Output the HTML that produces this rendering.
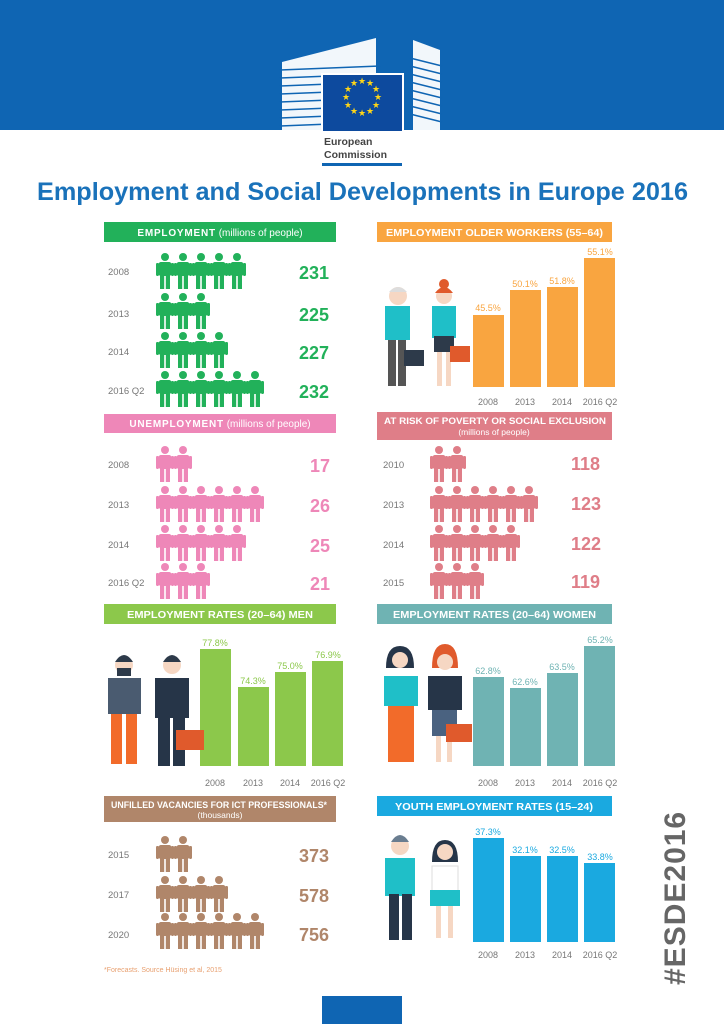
<!DOCTYPE html>
<html><head><meta charset="utf-8"><style>
html,body{margin:0;padding:0;background:#fff;}
svg{display:block;font-family:"Liberation Sans",sans-serif;}
</style></head><body>
<svg width="724" height="1024" viewBox="0 0 724 1024" xmlns="http://www.w3.org/2000/svg">
<defs>
<symbol id="p" viewBox="0 0 18 36" overflow="visible">
<circle cx="9" cy="4" r="4"/>
<rect x="2.5" y="9" width="13" height="14" rx="2.5"/>
<rect x="0" y="10" width="3" height="13" rx="1.2"/>
<rect x="15" y="10" width="3" height="13" rx="1.2"/>
<rect x="4" y="21" width="4.2" height="15"/>
<rect x="9.8" y="21" width="4.2" height="15"/>
</symbol>
</defs>
<!-- header -->
<rect x="0" y="0" width="724" height="130" fill="#0f65b3"/>
<g fill="#fff">
<path d="M282 62 L376 38 L376 130 L282 130 Z" opacity="0.95"/>
<path d="M413 40 L440 50 L440 130 L413 130 Z" opacity="0.95"/>
</g>
<g stroke="#0f65b3" stroke-width="1.6">
<line x1="280" y1="70" x2="380" y2="66"/><line x1="280" y1="78" x2="380" y2="74"/><line x1="280" y1="86" x2="380" y2="82"/><line x1="280" y1="94" x2="380" y2="90"/><line x1="280" y1="102" x2="380" y2="98"/><line x1="280" y1="110" x2="380" y2="106"/><line x1="280" y1="118" x2="380" y2="114"/><line x1="280" y1="126" x2="380" y2="122"/>
<line x1="410" y1="58" x2="442" y2="66"/><line x1="410" y1="66" x2="442" y2="74"/><line x1="410" y1="74" x2="442" y2="82"/><line x1="410" y1="82" x2="442" y2="90"/><line x1="410" y1="90" x2="442" y2="98"/><line x1="410" y1="98" x2="442" y2="106"/><line x1="410" y1="106" x2="442" y2="114"/><line x1="410" y1="114" x2="442" y2="122"/>
</g>
<rect x="321" y="73" width="83" height="58" fill="#fff"/>
<rect x="323" y="75" width="79" height="56" fill="#0d4a9e"/>
<g fill="#ffd617" font-size="9" text-anchor="middle">
<text x="362" y="84">★</text><text x="370" y="86">★</text><text x="376" y="92">★</text><text x="378" y="100">★</text><text x="376" y="108">★</text><text x="370" y="114">★</text><text x="362" y="116">★</text><text x="354" y="114">★</text><text x="348" y="108">★</text><text x="346" y="100">★</text><text x="348" y="92">★</text><text x="354" y="86">★</text>
</g>
<text x="324" y="145" font-size="10.5" fill="#444" font-weight="bold">European</text>
<text x="324" y="158" font-size="10.5" fill="#444" font-weight="bold">Commission</text>
<rect x="322" y="163" width="80" height="3" fill="#0f65b3"/>
<text x="37" y="200" font-size="25" fill="#1a72ba" font-weight="bold" textLength="651" lengthAdjust="spacingAndGlyphs">Employment and Social Developments in Europe 2016</text>

<!-- EMPLOYMENT -->
<rect x="104" y="222" width="232" height="20" fill="#22b15a"/>
<text x="220" y="236" font-size="10" fill="#fff" text-anchor="middle"><tspan font-weight="bold" letter-spacing="0.8">EMPLOYMENT</tspan> (millions of people)</text>
<g font-size="9.5" fill="#777">
<text x="108" y="275">2008</text><text x="108" y="317">2013</text><text x="108" y="355">2014</text><text x="108" y="394">2016 Q2</text>
</g>
<g fill="#22b15a">
<use href="#p" x="156" y="253" width="18" height="36"/><use href="#p" x="174" y="253" width="18" height="36"/><use href="#p" x="192" y="253" width="18" height="36"/><use href="#p" x="210" y="253" width="18" height="36"/><use href="#p" x="228" y="253" width="18" height="36"/>
<use href="#p" x="156" y="293" width="18" height="36"/><use href="#p" x="174" y="293" width="18" height="36"/><use href="#p" x="192" y="293" width="18" height="36"/>
<use href="#p" x="156" y="332" width="18" height="36"/><use href="#p" x="174" y="332" width="18" height="36"/><use href="#p" x="192" y="332" width="18" height="36"/><use href="#p" x="210" y="332" width="18" height="36"/>
<use href="#p" x="156" y="371" width="18" height="36"/><use href="#p" x="174" y="371" width="18" height="36"/><use href="#p" x="192" y="371" width="18" height="36"/><use href="#p" x="210" y="371" width="18" height="36"/><use href="#p" x="228" y="371" width="18" height="36"/><use href="#p" x="246" y="371" width="18" height="36"/>
</g>
<g font-size="18" font-weight="bold" fill="#22b15a">
<text x="299" y="279">231</text><text x="299" y="321">225</text><text x="299" y="359">227</text><text x="299" y="398">232</text>
</g>

<!-- OLDER WORKERS -->
<rect x="377" y="222" width="235" height="20" fill="#f9a540"/>
<text x="386" y="236" font-size="10" fill="#fff" font-weight="bold" textLength="217" lengthAdjust="spacingAndGlyphs">EMPLOYMENT OLDER WORKERS (55–64)</text>
<g fill="#f9a540">
<rect x="473" y="315" width="31" height="72"/><rect x="510" y="290" width="31" height="97"/><rect x="547" y="287" width="31" height="100"/><rect x="584" y="258" width="31" height="129"/>
</g>
<g font-size="9" fill="#f9a540" text-anchor="middle">
<text x="488" y="311">45.5%</text><text x="525" y="287">50.1%</text><text x="562" y="284">51.8%</text><text x="600" y="255">55.1%</text>
</g>
<g font-size="9" fill="#777" text-anchor="middle">
<text x="488" y="405">2008</text><text x="525" y="405">2013</text><text x="562" y="405">2014</text><text x="600" y="405">2016 Q2</text>
</g>
<circle cx="398" cy="296" r="9" fill="#f6d7c3"/><path d="M389 292 q9 -10 18 0" fill="#ddd"/>
<rect x="385" y="306" width="25" height="34" fill="#1fbfc8"/><rect x="388" y="340" width="8" height="46" fill="#555"/><rect x="398" y="340" width="8" height="46" fill="#555"/>
<rect x="404" y="350" width="20" height="16" fill="#2d3a4a"/>
<circle cx="444" cy="296" r="8" fill="#f6d7c3"/><circle cx="444" cy="284" r="5" fill="#e05a2c"/><path d="M435 293 q9 -12 18 0" fill="#e05a2c"/>
<rect x="432" y="306" width="24" height="32" fill="#1fbfc8"/><rect x="434" y="336" width="20" height="16" fill="#2d3a4a"/><rect x="437" y="352" width="5" height="34" fill="#f6d7c3"/><rect x="446" y="352" width="5" height="34" fill="#f6d7c3"/>
<rect x="450" y="346" width="20" height="16" fill="#e05a2c"/>

<!-- UNEMPLOYMENT -->
<rect x="104" y="414" width="232" height="19" fill="#ee87b8"/>
<text x="220" y="427" font-size="10" fill="#fff" text-anchor="middle"><tspan font-weight="bold" letter-spacing="0.8">UNEMPLOYMENT</tspan> (millions of people)</text>
<g font-size="9.5" fill="#777">
<text x="108" y="468">2008</text><text x="108" y="508">2013</text><text x="108" y="548">2014</text><text x="108" y="586">2016 Q2</text>
</g>
<g fill="#ee87b8">
<use href="#p" x="156" y="446" width="18" height="36"/><use href="#p" x="174" y="446" width="18" height="36"/>
<use href="#p" x="156" y="486" width="18" height="36"/><use href="#p" x="174" y="486" width="18" height="36"/><use href="#p" x="192" y="486" width="18" height="36"/><use href="#p" x="210" y="486" width="18" height="36"/><use href="#p" x="228" y="486" width="18" height="36"/><use href="#p" x="246" y="486" width="18" height="36"/>
<use href="#p" x="156" y="525" width="18" height="36"/><use href="#p" x="174" y="525" width="18" height="36"/><use href="#p" x="192" y="525" width="18" height="36"/><use href="#p" x="210" y="525" width="18" height="36"/><use href="#p" x="228" y="525" width="18" height="36"/>
<use href="#p" x="156" y="563" width="18" height="36"/><use href="#p" x="174" y="563" width="18" height="36"/><use href="#p" x="192" y="563" width="18" height="36"/>
</g>
<g font-size="18" font-weight="bold" fill="#ee87b8">
<text x="310" y="472">17</text><text x="310" y="512">26</text><text x="310" y="552">25</text><text x="310" y="590">21</text>
</g>

<!-- POVERTY -->
<rect x="377" y="412" width="235" height="28" fill="#df7e88"/>
<text x="384" y="424" font-size="9.5" fill="#fff" font-weight="bold" textLength="222" lengthAdjust="spacingAndGlyphs">AT RISK OF POVERTY OR SOCIAL EXCLUSION</text>
<text x="494" y="435" font-size="8.5" fill="#fff" text-anchor="middle">(millions of people)</text>
<g font-size="9.5" fill="#777">
<text x="383" y="468">2010</text><text x="383" y="508">2013</text><text x="383" y="548">2014</text><text x="383" y="586">2015</text>
</g>
<g fill="#df7e88">
<use href="#p" x="430" y="446" width="18" height="36"/><use href="#p" x="448" y="446" width="18" height="36"/>
<use href="#p" x="430" y="486" width="18" height="36"/><use href="#p" x="448" y="486" width="18" height="36"/><use href="#p" x="466" y="486" width="18" height="36"/><use href="#p" x="484" y="486" width="18" height="36"/><use href="#p" x="502" y="486" width="18" height="36"/><use href="#p" x="520" y="486" width="18" height="36"/>
<use href="#p" x="430" y="525" width="18" height="36"/><use href="#p" x="448" y="525" width="18" height="36"/><use href="#p" x="466" y="525" width="18" height="36"/><use href="#p" x="484" y="525" width="18" height="36"/><use href="#p" x="502" y="525" width="18" height="36"/>
<use href="#p" x="430" y="563" width="18" height="36"/><use href="#p" x="448" y="563" width="18" height="36"/><use href="#p" x="466" y="563" width="18" height="36"/>
</g>
<g font-size="18" font-weight="bold" fill="#df7e88">
<text x="571" y="470">118</text><text x="571" y="510">123</text><text x="571" y="550">122</text><text x="571" y="588">119</text>
</g>

<!-- MEN -->
<rect x="104" y="604" width="232" height="20" fill="#8cc84b"/>
<text x="127" y="618" font-size="10" fill="#fff" font-weight="bold" textLength="186" lengthAdjust="spacingAndGlyphs">EMPLOYMENT RATES (20–64) MEN</text>
<g fill="#8cc84b">
<rect x="200" y="649" width="31" height="117"/><rect x="238" y="687" width="31" height="79"/><rect x="275" y="672" width="31" height="94"/><rect x="312" y="661" width="31" height="105"/>
</g>
<g font-size="9" fill="#8cc84b" text-anchor="middle">
<text x="215" y="646">77.8%</text><text x="253" y="684">74.3%</text><text x="290" y="669">75.0%</text><text x="328" y="658">76.9%</text>
</g>
<g font-size="9" fill="#777" text-anchor="middle">
<text x="215" y="786">2008</text><text x="253" y="786">2013</text><text x="290" y="786">2014</text><text x="328" y="786">2016 Q2</text>
</g>
<circle cx="124" cy="665" r="9" fill="#f6d7c3"/><path d="M115 662 q9 -14 18 0" fill="#2d3a4a"/><rect x="117" y="668" width="14" height="8" fill="#2d3a4a"/>
<rect x="108" y="678" width="33" height="36" fill="#4a5b70"/><rect x="111" y="714" width="11" height="50" fill="#f26b2a"/><rect x="126" y="714" width="11" height="50" fill="#f26b2a"/>
<circle cx="172" cy="665" r="9" fill="#f6d7c3"/><path d="M163 662 q9 -14 18 0" fill="#2d3a4a"/>
<rect x="155" y="678" width="34" height="40" fill="#263548"/><rect x="158" y="716" width="12" height="50" fill="#263548"/><rect x="173" y="716" width="12" height="50" fill="#263548"/>
<rect x="176" y="730" width="28" height="20" fill="#e05a2c"/>

<!-- WOMEN -->
<rect x="377" y="604" width="235" height="20" fill="#6fb3b3"/>
<text x="393" y="618" font-size="10" fill="#fff" font-weight="bold" textLength="203" lengthAdjust="spacingAndGlyphs">EMPLOYMENT RATES (20–64) WOMEN</text>
<g fill="#6fb3b3">
<rect x="473" y="677" width="31" height="89"/><rect x="510" y="688" width="31" height="78"/><rect x="547" y="673" width="31" height="93"/><rect x="584" y="646" width="31" height="120"/>
</g>
<g font-size="9" fill="#6fb3b3" text-anchor="middle">
<text x="488" y="674">62.8%</text><text x="525" y="685">62.6%</text><text x="562" y="670">63.5%</text><text x="600" y="643">65.2%</text>
</g>
<g font-size="9" fill="#777" text-anchor="middle">
<text x="488" y="786">2008</text><text x="525" y="786">2013</text><text x="562" y="786">2014</text><text x="600" y="786">2016 Q2</text>
</g>
<path d="M386 668 q0 -22 14 -22 q14 0 14 22 z" fill="#263548"/><circle cx="400" cy="660" r="8" fill="#f6d7c3"/>
<rect x="384" y="676" width="34" height="30" fill="#1fbfc8"/><path d="M388 706 h26 v56 h-26 z" fill="#f26b2a"/>
<path d="M432 668 q0 -24 13 -24 q13 0 13 24 z" fill="#e05a2c"/><circle cx="445" cy="662" r="8" fill="#f6d7c3"/>
<rect x="428" y="676" width="34" height="34" fill="#263548"/><rect x="432" y="710" width="25" height="26" fill="#4a6280"/><rect x="436" y="736" width="5" height="26" fill="#f6d7c3"/><rect x="447" y="736" width="5" height="26" fill="#f6d7c3"/>
<rect x="446" y="724" width="26" height="18" fill="#e05a2c"/>

<!-- ICT -->
<rect x="104" y="796" width="232" height="26" fill="#b0866a"/>
<text x="111" y="808" font-size="9.5" fill="#fff" font-weight="bold" textLength="216" lengthAdjust="spacingAndGlyphs">UNFILLED VACANCIES FOR ICT PROFESSIONALS*</text>
<text x="220" y="818" font-size="8.5" fill="#fff" text-anchor="middle">(thousands)</text>
<g font-size="9.5" fill="#777">
<text x="108" y="858">2015</text><text x="108" y="898">2017</text><text x="108" y="938">2020</text>
</g>
<g fill="#b0866a">
<use href="#p" x="156" y="836" width="18" height="36"/><use href="#p" x="174" y="836" width="18" height="36"/>
<use href="#p" x="156" y="876" width="18" height="36"/><use href="#p" x="174" y="876" width="18" height="36"/><use href="#p" x="192" y="876" width="18" height="36"/><use href="#p" x="210" y="876" width="18" height="36"/>
<use href="#p" x="156" y="913" width="18" height="36"/><use href="#p" x="174" y="913" width="18" height="36"/><use href="#p" x="192" y="913" width="18" height="36"/><use href="#p" x="210" y="913" width="18" height="36"/><use href="#p" x="228" y="913" width="18" height="36"/><use href="#p" x="246" y="913" width="18" height="36"/>
</g>
<g font-size="18" font-weight="bold" fill="#b0866a">
<text x="299" y="862">373</text><text x="299" y="902">578</text><text x="299" y="941">756</text>
</g>
<text x="104" y="972" font-size="7" fill="#e8a070">*Forecasts. Source Hüsing et al, 2015</text>

<!-- YOUTH -->
<rect x="377" y="796" width="235" height="20" fill="#1aa9e0"/>
<text x="395" y="810" font-size="10" fill="#fff" font-weight="bold" textLength="198" lengthAdjust="spacingAndGlyphs">YOUTH EMPLOYMENT RATES (15–24)</text>
<g fill="#1aa9e0">
<rect x="473" y="838" width="31" height="104"/><rect x="510" y="856" width="31" height="86"/><rect x="547" y="856" width="31" height="86"/><rect x="584" y="863" width="31" height="79"/>
</g>
<g font-size="9" fill="#1aa9e0" text-anchor="middle">
<text x="488" y="835">37.3%</text><text x="525" y="853">32.1%</text><text x="562" y="853">32.5%</text><text x="600" y="860">33.8%</text>
</g>
<g font-size="9" fill="#777" text-anchor="middle">
<text x="488" y="958">2008</text><text x="525" y="958">2013</text><text x="562" y="958">2014</text><text x="600" y="958">2016 Q2</text>
</g>
<circle cx="400" cy="846" r="9" fill="#f6d7c3"/><path d="M391 842 q9 -14 18 0" fill="#6a7d90"/>
<rect x="385" y="858" width="30" height="38" fill="#1fbfc8"/><rect x="389" y="894" width="10" height="46" fill="#263548"/><rect x="402" y="894" width="10" height="46" fill="#263548"/>
<path d="M432 862 q0 -22 13 -22 q13 0 13 22 z" fill="#263548"/><circle cx="445" cy="852" r="8" fill="#f6d7c3"/>
<rect x="432" y="866" width="26" height="26" fill="#fff" stroke="#ddd"/><rect x="430" y="890" width="30" height="16" fill="#1fbfc8"/><rect x="436" y="906" width="5" height="32" fill="#f6d7c3"/><rect x="448" y="906" width="5" height="32" fill="#f6d7c3"/>

<text transform="translate(685,985) rotate(-90)" font-size="30" font-weight="bold" fill="#666" letter-spacing="1">#ESDE2016</text>
<rect x="322" y="996" width="80" height="28" fill="#0f65b3"/>
</svg>
</body></html>
